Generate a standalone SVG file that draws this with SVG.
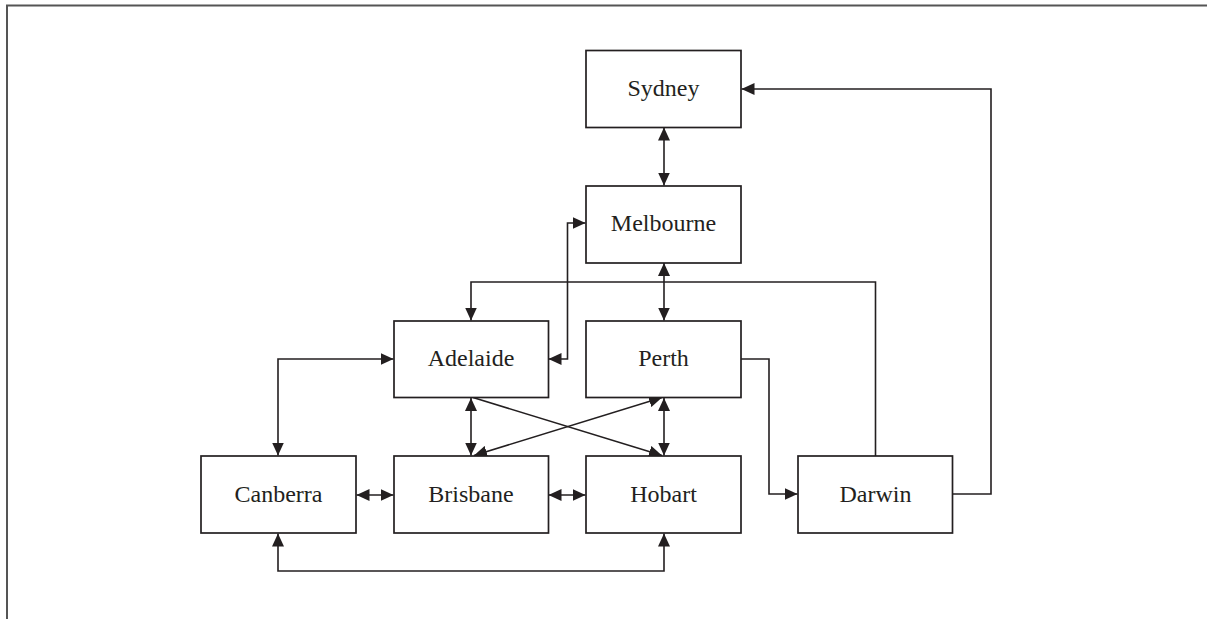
<svg xmlns="http://www.w3.org/2000/svg" width="1207" height="619" viewBox="0 0 1207 619">
<style>
.box{fill:#fff;stroke:#231f20;stroke-width:1.7}
.lbl{font-family:"Liberation Serif","Times New Roman",serif;font-size:24px;fill:#231f20;text-anchor:middle}
.c{fill:none;stroke:#231f20;stroke-width:1.6}
.frame{fill:none;stroke:#555;stroke-width:2}
</style>
<defs>
<marker id="ah" viewBox="0 0 13 12" refX="13" refY="6" markerWidth="13" markerHeight="12" markerUnits="userSpaceOnUse" orient="auto-start-reverse">
<path d="M0,0 L13,6 L0,12 Z" fill="#231f20"/>
</marker>
</defs>
<rect width="1207" height="619" fill="#fff"/>
<path class="frame" d="M7,619 V5.5 H1207"/>
<g id="connectors">
<path class="c" d="M664,127.5 V185.5" marker-start="url(#ah)" marker-end="url(#ah)"/>
<path class="c" d="M664,263 V320.5" marker-start="url(#ah)" marker-end="url(#ah)"/>
<path class="c" d="M548.5,359 H567.5 V223 H585.5" marker-start="url(#ah)" marker-end="url(#ah)"/>
<path class="c" d="M875.5,456 V282 H471 V320.5" marker-end="url(#ah)"/>
<path class="c" d="M278,455.5 V359 H393.5" marker-start="url(#ah)" marker-end="url(#ah)"/>
<path class="c" d="M741,359 H769 V494 H797.5" marker-end="url(#ah)"/>
<path class="c" d="M952.5,494 H991 V89 H741.5" marker-end="url(#ah)"/>
<path class="c" d="M471,398 V455.5" marker-start="url(#ah)" marker-end="url(#ah)"/>
<path class="c" d="M664,398 V455.5" marker-start="url(#ah)" marker-end="url(#ah)"/>
<path class="c" d="M473,397.5 L662,455.5" marker-end="url(#ah)"/>
<path class="c" d="M474,455.5 L662,397.5" marker-start="url(#ah)" marker-end="url(#ah)"/>
<path class="c" d="M356.5,495 H393.5" marker-start="url(#ah)" marker-end="url(#ah)"/>
<path class="c" d="M548.5,495 H585.5" marker-start="url(#ah)" marker-end="url(#ah)"/>
<path class="c" d="M278,533.5 V571 H664 V533.5" marker-start="url(#ah)" marker-end="url(#ah)"/>
</g>
<g id="sydney"><rect class="box" x="586" y="50.5" width="155" height="77"/><text class="lbl" x="663.5" y="96">Sydney</text></g>
<g id="melbourne"><rect class="box" x="586" y="186" width="155" height="77"/><text class="lbl" x="663.5" y="231">Melbourne</text></g>
<g id="adelaide"><rect class="box" x="394" y="321" width="154.5" height="76.5"/><text class="lbl" x="471" y="366">Adelaide</text></g>
<g id="perth"><rect class="box" x="586" y="321" width="155" height="76.5"/><text class="lbl" x="663.5" y="366">Perth</text></g>
<g id="canberra"><rect class="box" x="201" y="456" width="155" height="77"/><text class="lbl" x="278.5" y="502">Canberra</text></g>
<g id="brisbane"><rect class="box" x="394" y="456" width="154.5" height="77"/><text class="lbl" x="471" y="502">Brisbane</text></g>
<g id="hobart"><rect class="box" x="586" y="456" width="155" height="77"/><text class="lbl" x="663.5" y="502">Hobart</text></g>
<g id="darwin"><rect class="box" x="798" y="456" width="154.5" height="77"/><text class="lbl" x="875.5" y="502">Darwin</text></g>
</svg>
